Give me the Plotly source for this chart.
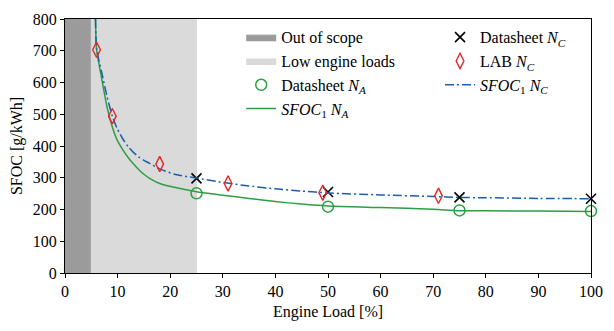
import plotly.graph_objects as go

# Shaded regions (engine load bounds, %)
scope_bounds = [0, 5]
low_bounds = [5, 25]

# Datasheet points
ds_load = [25, 50, 75, 100]
ds_NA = [251, 209, 197, 195]
ds_NC = [298, 255, 238, 234]

# LAB measurements N_C
lab_load = [6, 9, 18, 31, 49, 71]
lab_NC = [703, 494, 343, 282, 253, 243]

# Fitted SFOC_1 curves
curve_load = [5.8, 6, 7, 8, 9, 10, 11, 12, 13, 14, 15, 16, 18, 21, 25, 30, 35, 40, 45, 50, 60, 70, 75, 80, 90, 100]
curve_NA = [800, 706, 610, 522, 460, 416, 388, 364, 344, 326, 311, 299, 282, 269, 256, 245, 235, 225, 217, 211, 206, 201, 196, 196, 195, 194]
curve_NC = [800, 706, 630, 555, 494, 452, 422, 398, 380, 366, 355, 346, 328, 310, 299, 285, 274, 265, 258, 252, 246, 241, 238, 237, 235, 234]

FONT = "Liberation Serif"
FS = 16
fig = go.Figure()

def rect(b, color, name, rank):
    fig.add_trace(go.Scatter(
        x=[b[0], b[1], b[1], b[0], b[0]], y=[0, 0, 800, 800, 0],
        fill="toself", fillcolor=color, mode="lines",
        line=dict(color=color, width=1), name=name, legend="legend", legendrank=rank,
        hoverinfo="skip"))

rect(scope_bounds, "#9b9b9b", "Out of scope", 1)
rect(low_bounds, "#dadada", "Low engine loads", 2)

fig.add_trace(go.Scatter(x=curve_load, y=curve_NA, mode="lines",
                         line=dict(color="#2e9e44", width=1.5, shape="spline", smoothing=0.6),
                         name="<i>SFOC</i><sub>1</sub> <i>N<sub>A</sub></i>", legend="legend", legendrank=4))
fig.add_trace(go.Scatter(x=ds_load, y=ds_NA, mode="markers",
                         marker=dict(symbol="circle-open", size=11, color="#2e9e44", line=dict(width=1.5)),
                         name="Datasheet <i>N<sub>A</sub></i>", legend="legend", legendrank=3, cliponaxis=False))
fig.add_trace(go.Scatter(x=ds_load, y=ds_NC, mode="markers",
                         marker=dict(symbol="x-thin-open", size=10, color="black", line=dict(width=1.6, color="black")),
                         name="Datasheet <i>N<sub>C</sub></i>", legend="legend2", legendrank=1, cliponaxis=False))
fig.add_trace(go.Scatter(x=curve_load, y=curve_NC, mode="lines",
                         line=dict(color="#1a5ead", width=1.5, dash="9px,3px,2px,3px", shape="spline", smoothing=0.6),
                         name="<i>SFOC</i><sub>1</sub> <i>N<sub>C</sub></i>", legend="legend2", legendrank=3))
fig.add_trace(go.Scatter(x=lab_load, y=lab_NC, mode="markers",
                         marker=dict(symbol="diamond-tall-open", size=11, color="#e0282a", line=dict(width=1.4)),
                         name="LAB <i>N<sub>C</sub></i>", legend="legend2", legendrank=2, cliponaxis=False))

axis_common = dict(showline=True, linecolor="black", linewidth=1.2, mirror=True,
                   ticks="outside", ticklen=4, tickcolor="black", showgrid=False, zeroline=False,
                   tickfont=dict(family=FONT, size=FS, color="black"))
fig.update_xaxes(range=[0, 100], tick0=0, dtick=10,
                 title=dict(text="Engine Load [%]", font=dict(family=FONT, size=FS, color="black"), standoff=6),
                 **axis_common)
fig.update_yaxes(range=[0, 800], tick0=0, dtick=100,
                 title=dict(text="SFOC [g/kWh]", font=dict(family=FONT, size=FS, color="black"), standoff=6),
                 **axis_common)

legend_common = dict(bgcolor="rgba(0,0,0,0)", borderwidth=0, font=dict(family=FONT, size=FS, color="black"),
                     yanchor="top", xanchor="left", traceorder="normal", itemwidth=30, tracegroupgap=0)
fig.update_layout(
    width=614, height=331, margin=dict(l=65, r=12, t=11, b=58),
    plot_bgcolor="white", paper_bgcolor="white",
    legend=dict(x=0.335, y=0.995, **legend_common),
    legend2=dict(x=0.713, y=0.995, **legend_common),
)
fig.write_html("out.html")
